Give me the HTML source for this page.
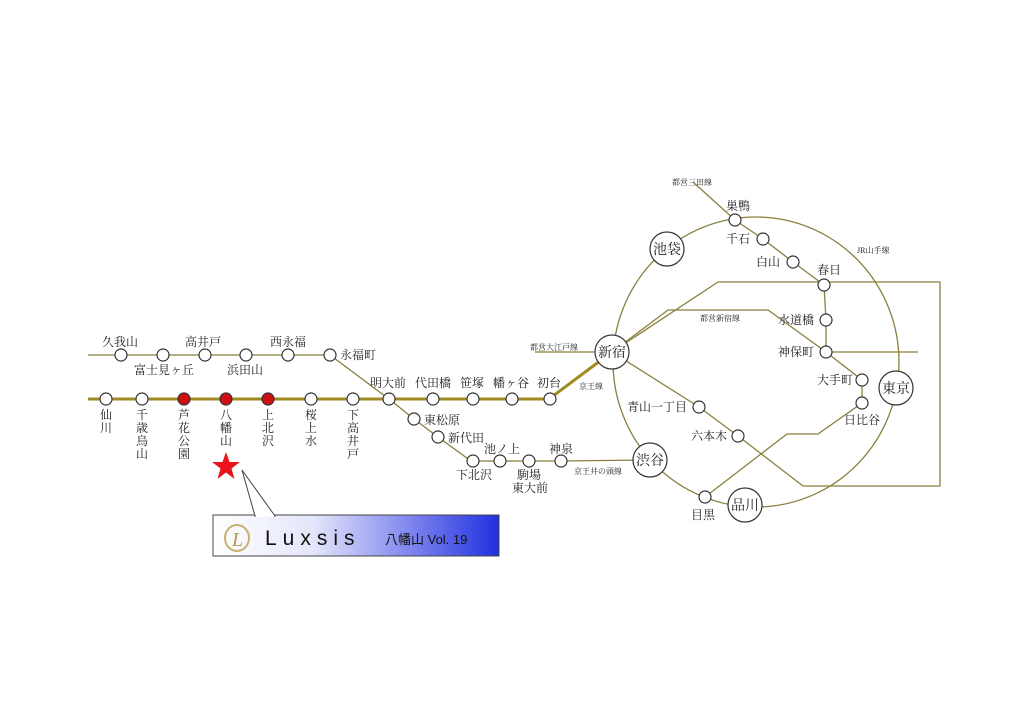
<!DOCTYPE html>
<html><head><meta charset="utf-8"><style>
html,body{margin:0;padding:0;background:#fff;}
svg{display:block;}
text{font-family:"Liberation Serif","Noto Serif CJK SC","Noto Sans CJK JP",serif;fill:#222;}
.s{font-size:12px;}
.xs{font-size:8px;}
.b{font-size:14px;}
</style></head><body>
<svg width="1024" height="723" viewBox="0 0 1024 723" xmlns="http://www.w3.org/2000/svg">
<defs>
<linearGradient id="g" x1="0" x2="1" y1="0" y2="0">
<stop offset="0" stop-color="#ffffff"/><stop offset="0.35" stop-color="#e4e6fa"/><stop offset="0.7" stop-color="#7b82ee"/><stop offset="1" stop-color="#2030e0"/>
</linearGradient>
</defs>
<g fill="none" stroke="#8a7f3c" stroke-width="1.3">
<ellipse cx="756" cy="362" rx="143" ry="145"/>
<polyline points="693,182 735,220 763,239 793,262 824,285 826,320 826,352 862,380 862,403 818,434 787,434 705,497"/>
<polyline points="535,352 612,352"/>
<polyline points="612,352 718,282 940,282 940,486 803,486 738,436 699,407 612,352"/>
<polyline points="612,352 668,310 768,310 826,352 918,352"/>
<polyline points="561,461 650,460"/>
<polyline points="88,355 330,355 389,399 414,419 438,437 471,461 561,461"/>
</g>
<g fill="none" stroke="#a08a22" stroke-width="3">
<polyline points="88,399 549,399 612,352"/>
</g>
<g fill="#fff" stroke="#333" stroke-width="1.2">
<circle cx="121" cy="355" r="6"/><circle cx="163" cy="355" r="6"/><circle cx="205" cy="355" r="6"/><circle cx="246" cy="355" r="6"/><circle cx="288" cy="355" r="6"/><circle cx="330" cy="355" r="6"/>
<circle cx="106" cy="399" r="6"/><circle cx="142" cy="399" r="6"/><circle cx="311" cy="399" r="6"/><circle cx="353" cy="399" r="6"/><circle cx="389" cy="399" r="6"/><circle cx="433" cy="399" r="6"/><circle cx="473" cy="399" r="6"/><circle cx="512" cy="399" r="6"/><circle cx="550" cy="399" r="6"/>
<circle cx="414" cy="419" r="6"/><circle cx="438" cy="437" r="6"/><circle cx="473" cy="461" r="6"/><circle cx="500" cy="461" r="6"/><circle cx="529" cy="461" r="6"/><circle cx="561" cy="461" r="6"/>
<circle cx="735" cy="220" r="6"/><circle cx="763" cy="239" r="6"/><circle cx="793" cy="262" r="6"/><circle cx="824" cy="285" r="6"/><circle cx="826" cy="320" r="6"/><circle cx="826" cy="352" r="6"/><circle cx="862" cy="380" r="6"/><circle cx="862" cy="403" r="6"/>
<circle cx="699" cy="407" r="6"/><circle cx="738" cy="436" r="6"/><circle cx="705" cy="497" r="6"/>
<circle cx="667" cy="249" r="17"/><circle cx="612" cy="352" r="17"/><circle cx="650" cy="460" r="17"/><circle cx="745" cy="505" r="17"/><circle cx="896" cy="388" r="17"/>
</g>
<g fill="#d01010" stroke="#333" stroke-width="1.2">
<circle cx="184" cy="399" r="6"/><circle cx="226" cy="399" r="6"/><circle cx="268" cy="399" r="6"/>
</g>
<g class="b" text-anchor="middle">
<text x="667" y="254">池袋</text><text x="612" y="357">新宿</text><text x="650" y="465">渋谷</text><text x="745" y="510">品川</text><text x="896" y="393">東京</text>
</g>
<g class="s">
<text x="102" y="346">久我山</text><text x="185" y="346">高井戸</text><text x="270" y="346">西永福</text>
<text x="134" y="374">富士見ヶ丘</text><text x="227" y="374">浜田山</text><text x="340" y="359">永福町</text>
<text x="370" y="387">明大前</text><text x="415" y="387">代田橋</text><text x="460" y="387">笹塚</text><text x="493" y="387">幡ヶ谷</text><text x="537" y="387">初台</text>
<text x="424" y="424">東松原</text><text x="448" y="442">新代田</text><text x="484" y="453">池ノ上</text><text x="549" y="453">神泉</text>
<text x="456" y="479">下北沢</text><text x="517" y="479">駒場</text><text x="512" y="492">東大前</text>
<text x="726" y="210">巣鴨</text><text x="726" y="243">千石</text><text x="756" y="266">白山</text><text x="817" y="274">春日</text>
<text x="778" y="324">水道橋</text><text x="778" y="356">神保町</text><text x="817" y="384">大手町</text><text x="844" y="424">日比谷</text>
<text x="627" y="411">青山一丁目</text><text x="691" y="440">六本木</text><text x="691" y="519">目黒</text>
</g>
<g class="xs">
<text x="672" y="185">都営三田線</text><text x="857" y="253">JR山手線</text><text x="700" y="321">都営新宿線</text>
<text x="530" y="350">都営大江戸線</text><text x="579" y="389">京王線</text><text x="574" y="474">京王井の頭線</text>
</g>
<g class="s" text-anchor="middle">
<text x="106" y="419">仙</text><text x="106" y="432">川</text>
<text x="142" y="419">千</text><text x="142" y="432">歳</text><text x="142" y="445">烏</text><text x="142" y="458">山</text>
<text x="184" y="419">芦</text><text x="184" y="432">花</text><text x="184" y="445">公</text><text x="184" y="458">園</text>
<text x="226" y="419">八</text><text x="226" y="432">幡</text><text x="226" y="445">山</text>
<text x="268" y="419">上</text><text x="268" y="432">北</text><text x="268" y="445">沢</text>
<text x="311" y="419">桜</text><text x="311" y="432">上</text><text x="311" y="445">水</text>
<text x="353" y="419">下</text><text x="353" y="432">高</text><text x="353" y="445">井</text><text x="353" y="458">戸</text>
</g>
<polygon points="226,452 229.5,462 240,462 231.5,468.5 234.5,479 226,472.5 217.5,479 220.5,468.5 212,462 222.5,462" fill="#e8141c"/>
<rect x="213" y="515" width="286" height="41" fill="url(#g)" stroke="#444" stroke-width="1"/>
<polygon points="255,516 242,470 275,516" fill="#fff" stroke="#444" stroke-width="1"/>
<line x1="256" y1="516" x2="274" y2="516" stroke="#fff" stroke-width="2"/>
<ellipse cx="237" cy="538" rx="12" ry="13" fill="none" stroke="#c8b070" stroke-width="2"/>
<text x="232" y="546" style="font-size:20px;font-style:italic;fill:#b09a50">L</text>
<text x="265" y="545" style="font-family:'Liberation Sans',sans-serif;font-size:21px;letter-spacing:6px;fill:#111">Luxsis</text>
<text x="385" y="544" style="font-family:'Liberation Sans','Noto Sans CJK JP',sans-serif;font-size:13px;fill:#111">八幡山 Vol. 19</text>
</svg>
</body></html>
